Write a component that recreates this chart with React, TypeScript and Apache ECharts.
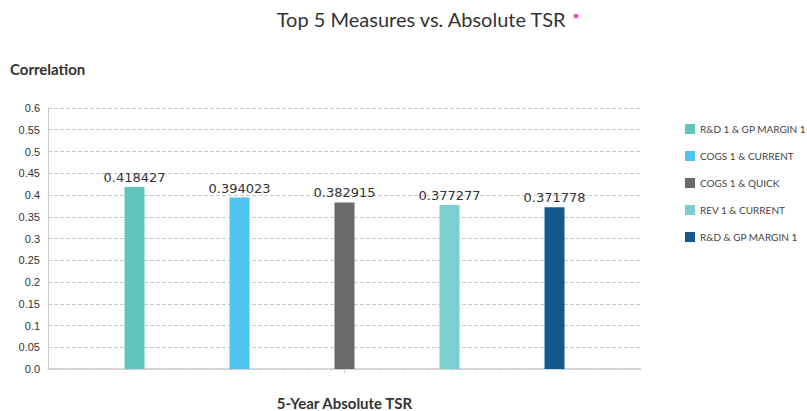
import React, { useEffect, useRef } from "react";
import * as echarts from "echarts";

const categories = ["5-Year Absolute TSR"];
const seriesNames = [
  "R&D 1 & GP MARGIN 1",
  "COGS 1 & CURRENT",
  "COGS 1 & QUICK",
  "REV 1 & CURRENT",
  "R&D & GP MARGIN 1",
];
const seriesValues = [0.418427, 0.394023, 0.382915, 0.377277, 0.371778];
const seriesColors = ["#63c5bf", "#50c4ee", "#6a6a6a", "#7ccfd0", "#14598a"];

export default function App() {
  const ref = useRef<HTMLDivElement>(null);
  useEffect(() => {
    if (!ref.current) return;
    const chart = echarts.init(ref.current, undefined, { renderer: "svg" });
    const series = seriesNames.map((name, i) => ({
      name,
      type: "bar",
      data: [seriesValues[i]],
      barWidth: 20,
      barGap: "425%",
      barCategoryGap: "25.8%",
      itemStyle: { color: seriesColors[i] },
      label: {
        show: true,
        position: "top",
        distance: 3,
        color: "#333",
        fontFamily: "DejaVu Sans",
        fontSize: 13,
        formatter: (p: any) => String(p.value),
      },
    }));
    chart.setOption({
      animation: false,
      title: {
        text: "Top 5 Measures vs. Absolute TSR {s|*}",
        left: 423,
        textAlign: "center",
        top: 4,
        textStyle: {
          fontFamily: "Lato",
          fontWeight: "normal",
          fontSize: 20,
          color: "#333",
          rich: { s: { color: "#e0218a", fontSize: 20, fontFamily: "Lato" } },
        },
      },
      graphic: [
        {
          type: "text",
          left: 10,
          top: 61,
          style: {
            text: "Correlation",
            font: "bold 15px Lato",
            fill: "#333",
          },
        },
      ],
      legend: {
        orient: "vertical",
        left: 685,
        top: 124,
        padding: 0,
        itemWidth: 10,
        itemHeight: 10,
        itemGap: 17,
        icon: "rect",
        textStyle: { fontFamily: "Lato", fontSize: 10, color: "#444" },
        data: seriesNames,
      },
      grid: { left: 48, right: 166, top: 108, bottom: 42, containLabel: false },
      xAxis: {
        type: "category",
        data: categories,
        offset: 3,
        axisLine: { show: true, lineStyle: { color: "#ccc", width: 1.5 } },
        axisTick: { show: true, alignWithLabel: true, length: 4, lineStyle: { color: "#ccc" } },
        axisLabel: {
          margin: 23,
          fontFamily: "Lato",
          fontWeight: "bold",
          fontSize: 15,
          color: "#333",
        },
      },
      yAxis: {
        type: "value",
        min: 0,
        max: 0.6,
        interval: 0.05,
        axisLine: { show: true, lineStyle: { color: "#ccc" } },
        axisTick: { show: false },
        axisLabel: {
          margin: 8,
          fontFamily: "Liberation Sans",
          fontSize: 11,
          color: "#333",
          formatter: (v: number) => (v === 0 ? "0.0" : String(parseFloat(v.toFixed(2)))),
        },
        splitLine: { show: true, lineStyle: { color: "#ccc", type: "dashed" } },
      },
      series,
    });
    return () => chart.dispose();
  }, []);
  return (
    <div
      ref={ref}
      style={{ position: "absolute", left: 0, top: 0, width: 807, height: 411, background: "#fff" }}
    />
  );
}
